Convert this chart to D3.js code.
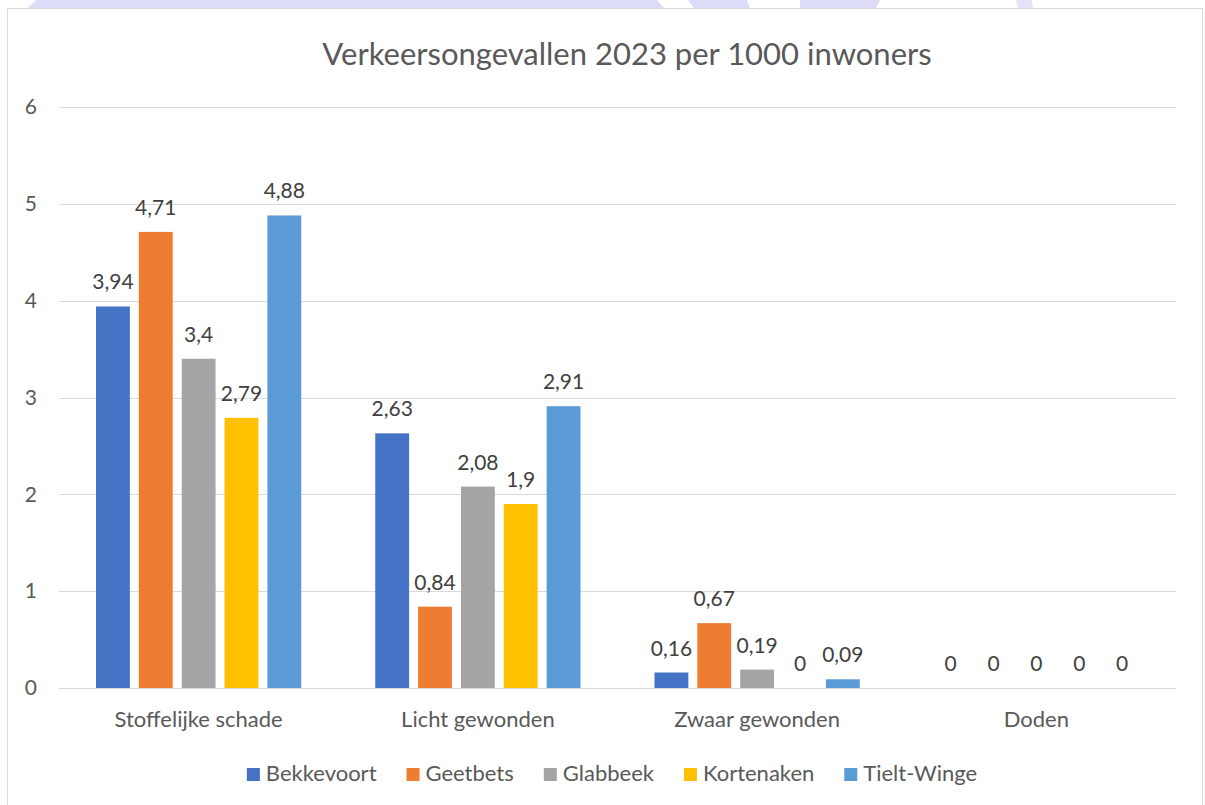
<!DOCTYPE html>
<html>
<head>
<meta charset="utf-8">
<script src="https://cdn.jsdelivr.net/npm/d3@7"></script>
<style>
	body { margin: 0; background: #fff; }
	text { font-family: Lato, "Open Sans", sans-serif; fill: #595959; }
</style>
</head>
<body>
<div id="chart"></div>
<script>
// data
var categories = ["Stoffelijke schade", "Licht gewonden", "Zwaar gewonden", "Doden"];
var series = ["Bekkevoort", "Geetbets", "Glabbeek", "Kortenaken", "Tielt-Winge"];
var bekkevoort = [3.94, 2.63, 0.16, 0];
var geetbets = [4.71, 0.84, 0.67, 0];
var glabbeek = [3.4, 2.08, 0.19, 0];
var kortenaken = [2.79, 1.9, 0, 0];
var tieltWinge = [4.88, 2.91, 0.09, 0];
var yTicks = [0, 1, 2, 3, 4, 5, 6];
var colors = ["#4472C4", "#ED7D31", "#A5A5A5", "#FFC000", "#5B9BD5"];
var title = "Verkeersongevallen 2023 per 1000 inwoners";

var values = [bekkevoort, geetbets, glabbeek, kortenaken, tieltWinge];

var svg = d3.select("#chart")
	.append("svg")
	.attr("width", 1205)
	.attr("height", 805);

// decorative strip peeking above the chart box
var deco = svg.append("g");
deco.append("path")
	.attr("d", "M36,0 L657,0 L664,8 L28,8 Z")
	.style("fill", "#dcdcf8");
deco.append("path")
	.attr("d", "M688,0 L747,0 L750,8 L694,8 Z")
	.style("fill", "#dcdcf8");
deco.append("path")
	.attr("d", "M800,0 L880,0 L876,8 L800,8 Z")
	.style("fill", "#dcdcf8");
deco.append("path")
	.attr("d", "M1016,0 L1032,0 L1033,8 L1018,8 Z")
	.style("fill", "#e4e4f8");

// chart box
svg.append("rect")
	.attr("x", 7.5)
	.attr("y", 8.5)
	.attr("width", 1195)
	.attr("height", 800)
	.style("fill", "#fff")
	.style("stroke", "#d9d9d9");

// scales
var x0 = d3.scaleBand()
	.domain(categories)
	.range([59, 1176]);

var x1 = d3.scaleBand()
	.domain(series)
	.range([37, x0.bandwidth() - 37])
	.paddingInner(0.21);

var y = d3.scaleLinear()
	.domain([0, 6])
	.range([688, 107]);

// gridlines
svg.append("g")
	.selectAll("line")
	.data(yTicks)
	.enter()
	.append("line")
	.attr("x1", 59)
	.attr("x2", 1176)
	.attr("y1", function(d) { return Math.round(y(d)) + 0.5; })
	.attr("y2", function(d) { return Math.round(y(d)) + 0.5; })
	.style("stroke", "#d9d9d9")
	.style("stroke-width", 1);

// y axis labels
var yAxis = svg.append("g")
	.attr("transform", "translate(37,0)")
	.call(d3.axisLeft(y).tickValues(yTicks).tickFormat(d3.format("d")).tickSize(0).tickPadding(0));
yAxis.select(".domain").remove();
yAxis.selectAll("text")
	.style("font-size", "21px")
	.style("font-family", "Lato, sans-serif")
	.attr("fill", "#595959");

// x axis labels
var xAxis = svg.append("g")
	.attr("transform", "translate(0,688)")
	.call(d3.axisBottom(x0).tickSize(0).tickPadding(0));
xAxis.select(".domain").remove();
xAxis.selectAll("text")
	.attr("y", 39)
	.attr("dy", null)
	.style("font-size", "22px")
	.style("font-family", "Lato, sans-serif")
	.attr("fill", "#595959");

// bars
var groups = svg.append("g")
	.selectAll("g")
	.data(categories)
	.enter()
	.append("g")
	.attr("transform", function(d) { return "translate(" + x0(d) + ",0)"; });

var cells = groups.selectAll(".cell")
	.data(function(d, ci) {
		return series.map(function(s, si) {
			return { s: s, si: si, v: values[si][ci] };
		});
	})
	.enter();

cells.append("rect")
	.attr("x", function(d) { return x1(d.s); })
	.attr("y", function(d) { return y(d.v); })
	.attr("width", x1.bandwidth())
	.attr("height", function(d) { return y(0) - y(d.v); })
	.style("fill", function(d) { return colors[d.si]; });

cells.append("text")
	.attr("x", function(d) { return x1(d.s) + x1.bandwidth() / 2; })
	.attr("y", function(d) { return y(d.v) - 17; })
	.attr("text-anchor", "middle")
	.style("font-size", "21px")
	.style("fill", "#404040")
	.text(function(d) { return String(d.v).replace(".", ","); });

// title
svg.append("text")
	.attr("x", 627)
	.attr("y", 65)
	.attr("text-anchor", "middle")
	.style("font-size", "31px")
	.style("fill", "#595959")
	.text(title);

// legend, laid out from measured text widths and centred in the box
var legend = svg.append("g");
var items = legend.selectAll(".legend")
	.data(series)
	.enter()
	.append("g")
	.attr("class", "legend");

items.append("rect")
	.attr("y", -13)
	.attr("width", 13)
	.attr("height", 13)
	.style("fill", function(d, i) { return colors[i]; });

items.append("text")
	.attr("x", 19)
	.attr("y", 0)
	.style("font-size", "22px")
	.style("fill", "#595959")
	.text(function(d) { return d; });

var cursor = 0;
items.each(function() {
	var w = 19 + d3.select(this).select("text").node().getComputedTextLength();
	d3.select(this).attr("transform", "translate(" + cursor + ",0)");
	cursor += w + 30;
});
var total = cursor - 30;
legend.attr("transform", "translate(" + (612 - total / 2) + ",781)");
</script>
</body>
</html>
